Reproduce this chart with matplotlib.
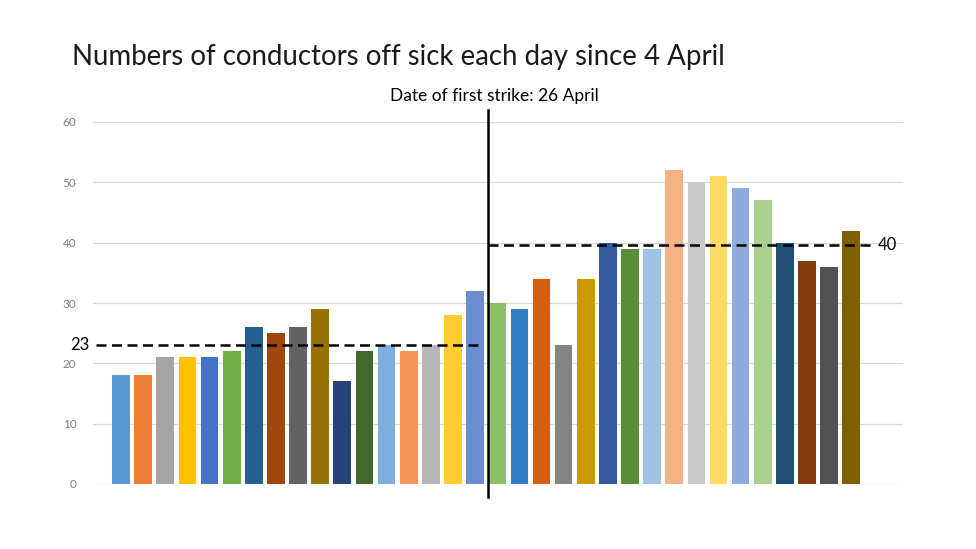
import matplotlib
matplotlib.use("Agg")
import matplotlib.pyplot as plt

# conductors off sick per day, 4 April onwards
before_strike = [18, 18, 21, 21, 21, 22, 26, 25, 26, 29, 17, 22, 23, 22, 23, 28, 32]
after_strike = [30, 29, 34, 23, 34, 40, 39, 39, 52, 50, 51, 49, 47, 40, 37, 36, 42]
avg_before = 23
avg_after = 40

bar_colors = [
    "#5B9BD5", "#ED7D31", "#A5A5A5", "#FFC000", "#4472C4", "#70AD47",
    "#255E91", "#9E480E", "#636363", "#997300", "#264478", "#43682B",
    "#7CAFDD", "#F1975A", "#B7B7B7", "#FFCD33", "#698ED0", "#8CC168",
    "#327DC2", "#D26012", "#848484", "#CC9A00", "#335AA1", "#5B8C3A",
    "#9DC3E6", "#F4B183", "#C9C9C9", "#FFD966", "#8FAADC", "#A9D18E",
    "#1F4E79", "#843C0C", "#525252", "#7F6000",
]

values = before_strike + after_strike
xs = list(range(len(values)))
split = len(before_strike) - 0.42

fig = plt.figure(figsize=(9.76, 5.49), dpi=100)
ax = fig.add_axes([93 / 976, 1 - 484 / 549, 810 / 976, 362 / 549])

ax.bar(xs, values, width=0.8, color=bar_colors, zorder=2)

ax.set_xlim(-1.27, 35.34)
ax.set_ylim(0, 60)
ax.set_yticks(range(0, 61, 10))
ax.set_xticks([])
ax.grid(axis="y", color="#D9D9D9", linewidth=0.9, zorder=0)
for s in ax.spines.values():
    s.set_visible(False)
ax.tick_params(axis="y", length=0, pad=12, labelsize=8.5, labelcolor="#7F7F7F")
for lbl in ax.get_yticklabels():
    lbl.set_family("Lato")

# strike divider
ax.plot([split, split], [-2.2, 62.0], color="black", linewidth=1.8,
        clip_on=False, zorder=4)

# averages
ax.plot([-1.15, split - 0.25], [avg_before, avg_before], color="black",
        linewidth=1.8, dashes=(4, 2.2), clip_on=False, zorder=3)
ax.plot([split, 33.95], [avg_after - 0.4, avg_after - 0.4], color="black",
        linewidth=1.8, dashes=(4, 2.2), clip_on=False, zorder=3)
ax.text(-1.45, avg_before, str(avg_before), ha="right", va="center",
        fontsize=12, family="Lato", color="black")
ax.text(34.2, avg_after - 0.4, str(avg_after), ha="left", va="center",
        fontsize=12, family="Lato", color="black")

fig.text(72 / 976, 1 - 57 / 549, "Numbers of conductors off sick each day since 4 April",
         ha="left", va="center", fontsize=19.9, family="Lato", color="#1A1A1A")
fig.text(494 / 976, 1 - 96 / 549, "Date of first strike: 26 April",
         ha="center", va="center", fontsize=12.5, family="Lato", color="black")

fig.savefig("out.png", dpi=100, facecolor="white")
